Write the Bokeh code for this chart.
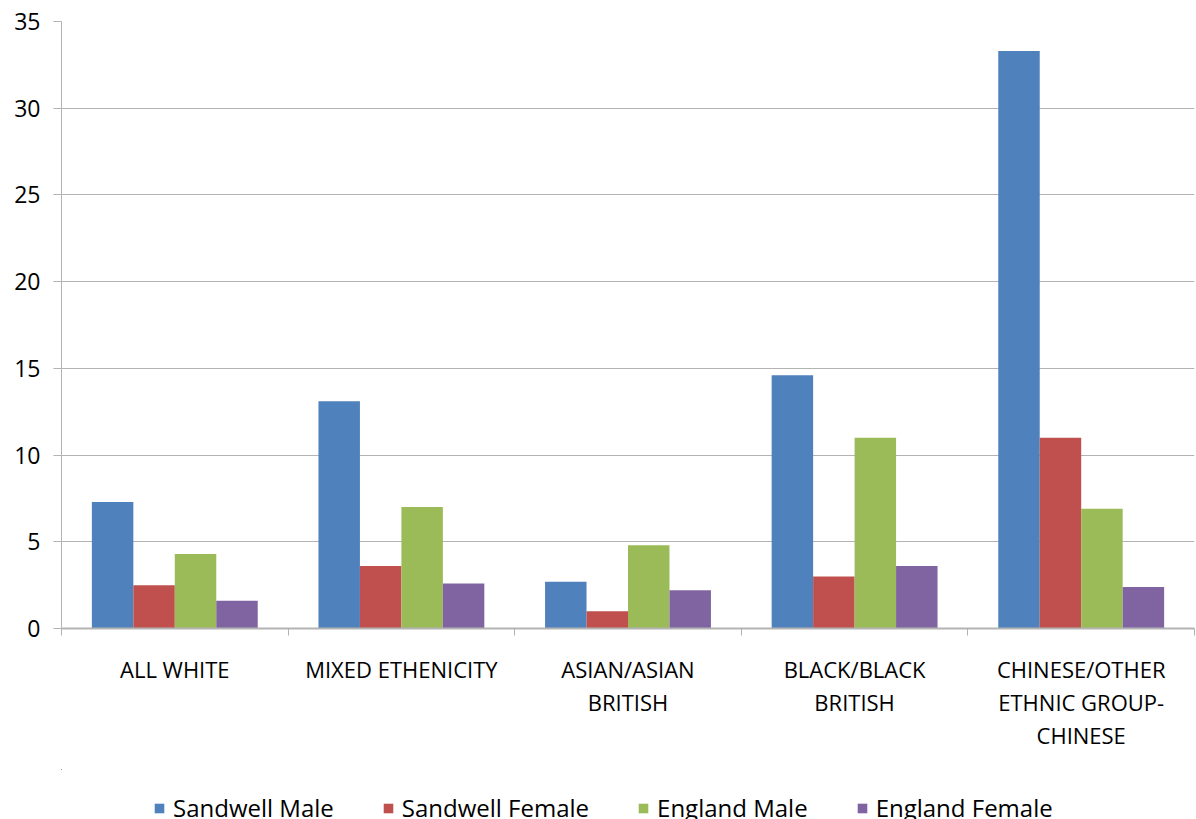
from bokeh.plotting import figure
from bokeh.layouts import column
from bokeh.models import (Range1d, LinearAxis, FixedTicker, Legend, LegendItem, ColumnDataSource)
from bokeh.transform import dodge
from bokeh.embed import file_html
from bokeh.resources import INLINE

categories = ["ALL WHITE", "MIXED ETHENICITY", "ASIAN/ASIAN\nBRITISH", "BLACK/BLACK\nBRITISH",
              "CHINESE/OTHER\nETHNIC GROUP-\nCHINESE"]
series_names = ["Sandwell Male", "Sandwell Female", "England Male", "England Female"]
sandwell_male = [7.3, 13.1, 2.7, 14.6, 33.3]
sandwell_female = [2.5, 3.6, 1.0, 3.0, 11.0]
england_male = [4.3, 7.0, 4.8, 11.0, 6.9]
england_female = [1.6, 2.6, 2.2, 3.6, 2.4]
y_ticks = [0, 5, 10, 15, 20, 25, 30, 35]

colors = ["#4F81BD", "#C0504D", "#9BBB59", "#8064A2"]
FONT = "Open Sans"
GRID = "#B3B3B3"

n = len(categories)
centers = [i + 0.5 for i in range(n)]
source = ColumnDataSource(dict(pos=centers, sm=sandwell_male, sf=sandwell_female,
                               em=england_male, ef=england_female))

p = figure(width=1196, height=769, output_backend="svg", toolbar_location=None,
           x_range=Range1d(0, n), y_range=Range1d(0, 35), x_axis_location=None,
           min_border_left=61, min_border_right=2, min_border_top=21, min_border_bottom=141)
p.outline_line_color = None
p.background_fill_color = "white"

bw = 0.183
offsets = [-1.5 * bw, -0.5 * bw, 0.5 * bw, 1.5 * bw]
keys = ["sm", "sf", "em", "ef"]
for k, off, c in zip(keys, offsets, colors):
    p.vbar(x=dodge("pos", off), top=k, bottom=0, width=bw,
           source=source, fill_color=c, line_color=None)

# y axis
p.yaxis.ticker = FixedTicker(ticks=y_ticks)
p.yaxis.axis_line_color = GRID
p.yaxis.major_tick_line_color = GRID
p.yaxis.major_tick_out = 8
p.yaxis.major_tick_in = 0
p.yaxis.minor_tick_line_color = None
p.yaxis.major_label_text_font = FONT
p.yaxis.major_label_text_font_size = "23px"
p.yaxis.major_label_text_color = "#000000"
p.yaxis.major_label_standoff = 13
p.ygrid.ticker = FixedTicker(ticks=y_ticks)
p.ygrid.grid_line_color = GRID
p.ygrid.grid_line_width = 1
p.xgrid.grid_line_color = None

# x axis: boundary ticks (no labels), then category labels
tick_axis = LinearAxis(ticker=FixedTicker(ticks=list(range(n + 1))),
                       axis_line_color=GRID, axis_line_width=2, major_tick_line_color=GRID,
                       major_tick_out=7, major_tick_in=0, minor_tick_line_color=None,
                       major_label_text_alpha=0, major_label_text_font_size="1px",
                       major_label_standoff=0)
label_axis = LinearAxis(ticker=FixedTicker(ticks=centers),
                        axis_line_color=None, major_tick_line_color=None, minor_tick_line_color=None,
                        major_label_text_font=FONT, major_label_text_font_size="22px",
                        major_label_text_line_height=1.1,
                        major_label_text_color="#000000", major_label_standoff=12,
                        major_label_overrides={c: lab for c, lab in zip(centers, categories)})
p.add_layout(tick_axis, "below")
p.add_layout(label_axis, "below")

# legend strip below the chart (its bars lie well outside its visible ranges)
lg = figure(width=1196, height=50, output_backend="svg", toolbar_location=None,
            x_range=Range1d(100, 105), y_range=Range1d(-2, -1), min_border=0,
            x_axis_location=None, y_axis_location=None)
lg.outline_line_color = None
lg.grid.visible = False
items = []
for s, k, off, c in zip(series_names, keys, offsets, colors):
    r = lg.vbar(x=dodge("pos", off), top=k, bottom=0, width=bw, source=source,
                fill_color=c, line_color=None)
    items.append(LegendItem(label=s, renderers=[r]))
legend = Legend(items=items, orientation="horizontal", location=(92, -5), padding=0, margin=0,
                spacing=48, glyph_width=12, glyph_height=12, label_standoff=8,
                label_text_font=FONT, label_text_font_size="24px", label_text_color="#000000",
                background_fill_alpha=0, border_line_color=None)
lg.add_layout(legend, "center")

layout = column(p, lg, spacing=0)
open("out.html", "w").write(file_html(layout, INLINE))
